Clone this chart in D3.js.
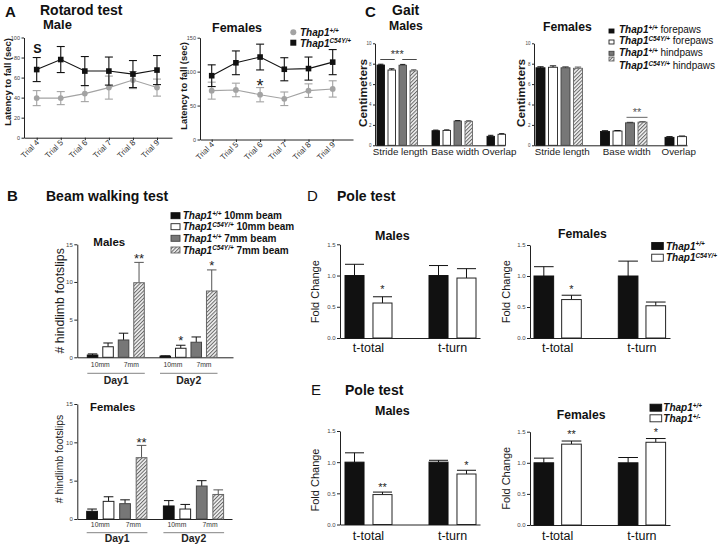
<!DOCTYPE html>
<html><head><meta charset="utf-8">
<script src="https://cdn.jsdelivr.net/npm/d3@7"></script>
<style>body{margin:0;background:#fff}svg{display:block}</style>
</head><body>
<script>
// ================= DATA =================
// A: Rotarod
const trials = ["Trial 4","Trial 5","Trial 6","Trial 7","Trial 8","Trial 9"];
const rotMaleWT = [39.5, 39.5, 44, 50, 57.5, 50];
const rotMaleWTErr = [7.5, 6.5, 8, 11.5, 8.5, 8.5];
const rotMaleMut = [68, 78, 66.5, 66.5, 63.5, 67.5];
const rotMaleMutErr = [12, 13, 14.5, 14, 13.5, 14.5];
const rotFemWT = [72, 73, 66, 60, 72, 74.5];
const rotFemWTErr = [12.5, 10, 10.5, 10, 10, 12];
const rotFemMut = [94, 113, 121.5, 103.5, 104.5, 114];
const rotFemMutErr = [16, 17.5, 19, 17, 17, 18.5];
const rotMaleTicks = [0, 20, 40, 60, 80, 100];
const rotFemTicks = [0, 50, 100, 150];
const rotLegend = [["+/+", ""], ["C54Y/+", ""]];

// C: Gait
const gaitCats = ["Stride length", "Base width", "Overlap"];
const gaitMale = [[7.87, 7.38, 7.85, 7.3], [1.43, 1.46, 2.38, 2.35], [0.88, 1.08]];
const gaitMaleErr = [[0.08, 0.12, 0.08, 0.1], [0.06, 0.05, 0.05, 0.06], [0.1, 0.06]];
const gaitFem = [[7.6, 7.65, 7.6, 7.55], [1.35, 1.4, 2.2, 2.27], [0.78, 0.85]];
const gaitFemErr = [[0.1, 0.14, 0.08, 0.12], [0.08, 0.05, 0.05, 0.05], [0.07, 0.06]];
const gaitTicks = [0, 2, 4, 6, 8, 10];
const gaitLegend = [["+/+", " forepaws"], ["C54Y/+", " forepaws"], ["+/+", " hindpaws"], ["C54Y/+", " hindpaws"]];

// B: Beam walking
const beamDays = ["Day1", "Day2"];
const beamWidths = ["10mm", "7mm"];
const beamMale = [[0.3, 1.4, 2.3, 9.9], [0.15, 1.2, 2.0, 8.8]];
const beamMaleErr = [[0.15, 0.5, 0.9, 2.7], [0.05, 0.4, 0.7, 2.8]];
const beamMaleSig = [["", "", "", "**"], ["", "*", "", "*"]];
const beamFem = [[1.0, 2.3, 2.0, 8.0], [1.7, 1.3, 4.3, 3.2]];
const beamFemErr = [[0.3, 0.6, 0.5, 1.6], [0.7, 0.6, 0.7, 0.6]];
const beamFemSig = [["", "", "", "**"], ["", "", "", ""]];
const beamTicks = [0, 5, 10, 15];
const beamLegend = [["+/+", " 10mm beam"], ["C54Y/+", " 10mm beam"], ["+/+", " 7mm beam"], ["C54Y/+", " 7mm beam"]];

// D & E: Pole test
const poleCats = ["t-total", "t-turn"];
const poleTicks = [0, 0.5, 1.0, 1.5];
const poleDMale = [[1.0, 0.56], [1.0, 0.96]];
const poleDMaleErr = [[0.18, 0.1], [0.16, 0.15]];
const poleDMaleSig = [["", "*"], ["", ""]];
const poleDFem = [[1.0, 0.62], [1.0, 0.52]];
const poleDFemErr = [[0.15, 0.07], [0.24, 0.06]];
const poleDFemSig = [["", "*"], ["", ""]];
const poleEMale = [[1.0, 0.48], [1.0, 0.81]];
const poleEMaleErr = [[0.15, 0.04], [0.03, 0.06]];
const poleEMaleSig = [["", "**"], ["", "*"]];
const poleEFem = [[1.0, 1.3], [1.0, 1.33]];
const poleEFemErr = [[0.075, 0.05], [0.085, 0.06]];
const poleEFemSig = [["", "**"], ["", "*"]];
const poleDLegend = [["+/+", ""], ["C54Y/+", ""]];
const poleELegend = [["+/+", ""], ["+/-", ""]];

// ================= DRAWING =================
const W = 720, H = 546;
const FONT = "'Liberation Sans', Arial, Helvetica, sans-serif";
const svg = d3.select("body").append("svg").attr("width", W).attr("height", H)
  .attr("font-family", FONT);
svg.append("rect").attr("width", W).attr("height", H).attr("fill", "#fff");

const defs = svg.append("defs");
const pat = defs.append("pattern").attr("id", "hatch").attr("patternUnits", "userSpaceOnUse")
  .attr("width", 2.6).attr("height", 2.6).attr("patternTransform", "rotate(45)");
pat.append("rect").attr("width", 2.6).attr("height", 2.6).attr("fill", "#f2f2f2");
pat.append("line").attr("x1", 0.5).attr("y1", 0).attr("x2", 0.5).attr("y2", 2.6)
  .attr("stroke", "#666").attr("stroke-width", 1);

const FILL = ["#111", "#fff", "#777", "url(#hatch)"];
const STROKE = ["#111", "#222", "#444", "#666"];

function txt(x, y, s, o = {}) {
  const t = svg.append("text").attr("x", x).attr("y", y).text(s)
    .attr("font-size", o.fs || 10).attr("font-weight", o.fw || "normal")
    .attr("fill", o.fill || "#111").attr("text-anchor", o.anchor || "start");
  if (o.rot) t.attr("transform", `rotate(${o.rot},${x},${y})`);
  if (o.italic) t.attr("font-style", "italic");
  if (o.dy) t.attr("dy", o.dy);
  return t;
}
function ylabel(cx, cy, s, fs, fw) {
  return txt(cx, cy, s, { fs: fs, fw: fw || "normal", anchor: "middle", rot: -90, dy: "0.35em", fill: "#1a1a1a" });
}
function genoText(x, y, sup, rest, fs, restWeight) {
  const t = svg.append("text").attr("x", x).attr("y", y).attr("font-size", fs).attr("fill", "#111");
  t.append("tspan").attr("font-style", "italic").attr("font-weight", "bold").text("Thap1");
  t.append("tspan").attr("font-style", "italic").attr("font-weight", "bold")
    .attr("font-size", fs * 0.64).attr("dy", -fs * 0.33).text(sup);
  if (rest) t.append("tspan").attr("dy", fs * 0.33).attr("font-weight", restWeight || "normal").text(rest);
  return t;
}
function styleAxis(g, fs) {
  g.attr("font-family", FONT).attr("font-size", fs);
  g.select(".domain").attr("stroke", "#222").attr("stroke-width", 1);
  g.selectAll(".tick line").attr("stroke", "#222");
  g.selectAll(".tick text").attr("fill", "#444");
}

function barChart(o) {
  const x0 = d3.scaleBand().domain(o.groups).range(o.groupRange);
  const x1 = d3.scaleBand().domain(d3.range(o.nSub)).range([0, o.subW]).paddingInner(o.subPad);
  const y = d3.scaleLinear().domain(o.yDomain).range(o.yRange);
  const ay = svg.append("g").attr("transform", `translate(${o.axisX[0]},0)`)
    .call(d3.axisLeft(y).tickValues(o.ticks).tickSize(o.tickSize || 2.5).tickSizeOuter(0)
      .tickPadding(o.tickPad || 1.5).tickFormat(o.fmt || d3.format("d")));
  styleAxis(ay, o.tickFs);
  const ax = svg.append("g").attr("transform", `translate(0,${y(0)})`)
    .call(d3.axisBottom(d3.scaleLinear().range(o.axisX)).tickValues([]).tickSizeOuter(0));
  styleAxis(ax, 6);
  const g = svg.append("g");
  const bw = x1.bandwidth();
  o.groups.forEach((grp, gi) => {
    o.values[gi].forEach((v, si) => {
      const bx = x0(grp) + x1(si);
      const e = o.errors[gi][si];
      const top = y(v + e);
      const col = si === 3 ? "#555" : "#111";
      g.append("line").attr("x1", bx + bw / 2).attr("x2", bx + bw / 2).attr("y1", y(v)).attr("y2", top)
        .attr("stroke", col).attr("stroke-width", o.ew || 1);
      g.append("line").attr("x1", bx + bw / 2 - bw * o.cap).attr("x2", bx + bw / 2 + bw * o.cap)
        .attr("y1", top).attr("y2", top).attr("stroke", col).attr("stroke-width", o.ew || 1);
      g.append("rect").attr("x", bx).attr("y", y(v)).attr("width", bw).attr("height", y(0) - y(v))
        .attr("fill", FILL[si]).attr("stroke", STROKE[si]).attr("stroke-width", o.sw || 1);
      if (o.sig && o.sig[gi][si]) {
        const fs = o.sigFs || 11;
        txt(bx + bw / 2, top - o.sigGap + 0.55 * fs, o.sig[gi][si],
          { fs: fs, anchor: "middle", fill: o.sigFill || "#222" });
      }
    });
  });
  return { x0, x1, y, bw };
}

function lineChart(o) {
  const x = d3.scalePoint().domain(trials).range(o.xRange);
  const y = d3.scaleLinear().domain(o.yDomain).range(o.yRange);
  const ay = svg.append("g").attr("transform", `translate(${o.axisX[0]},0)`)
    .call(d3.axisLeft(y).tickValues(o.ticks).tickSize(2.5).tickSizeOuter(0).tickPadding(1.5));
  styleAxis(ay, 5.5);
  const axl = svg.append("g").attr("transform", `translate(0,${y(0)})`)
    .call(d3.axisBottom(d3.scaleLinear().range(o.axisX)).tickValues([]).tickSizeOuter(0));
  styleAxis(axl, 6);
  const ax = svg.append("g").attr("transform", `translate(0,${y(0)})`)
    .call(d3.axisBottom(x).tickSize(2.5).tickSizeOuter(0));
  styleAxis(ax, 8);
  ax.select(".domain").remove();
  ax.selectAll(".tick text").attr("x", 0).attr("y", 0).attr("dy", 0)
    .attr("text-anchor", "end").attr("transform", "translate(2.5,5.5) rotate(-45)").attr("fill", "#333");
  const series = [
    { v: o.wt, e: o.wtErr, col: "#a3a3a3", shape: "circle" },
    { v: o.mut, e: o.mutErr, col: "#111", shape: "square" }
  ];
  series.forEach(s => {
    const g = svg.append("g");
    g.append("path").datum(s.v.map((v, i) => [trials[i], v]))
      .attr("d", d3.line().x(d => x(d[0])).y(d => y(d[1])))
      .attr("fill", "none").attr("stroke", s.col).attr("stroke-width", 1.1);
    s.v.forEach((v, i) => {
      const cx = x(trials[i]);
      const lo = y(v - s.e[i]), hi = y(v + s.e[i]);
      g.append("line").attr("x1", cx).attr("x2", cx).attr("y1", lo).attr("y2", hi).attr("stroke", s.col).attr("stroke-width", 1.1);
      [lo, hi].forEach(yy => g.append("line").attr("x1", cx - 4).attr("x2", cx + 4).attr("y1", yy).attr("y2", yy)
        .attr("stroke", s.col).attr("stroke-width", 1.1));
      if (s.shape === "circle") g.append("circle").attr("cx", cx).attr("cy", y(v)).attr("r", 2.9).attr("fill", s.col);
      else g.append("rect").attr("x", cx - 2.8).attr("y", y(v) - 2.8).attr("width", 5.6).attr("height", 5.6).attr("fill", s.col);
    });
  });
  return { x, y };
}

function legendBoxes(items, x, rows, w, h, textX, fs, restWeight, markerRows) {
  items.forEach((it, i) => {
    const my = (markerRows || rows)[i];
    svg.append("rect").attr("x", x).attr("y", my - h / 2).attr("width", w).attr("height", h)
      .attr("fill", FILL[i]).attr("stroke", STROKE[i]).attr("stroke-width", 0.9);
    genoText(textX, rows[i] + fs * 0.36, it[0], it[1], fs, restWeight);
  });
}

// ---------- Panel A ----------
txt(5, 16.7, "A", { fs: 15, fw: "bold" });
txt(40, 15, "Rotarod test", { fs: 14, fw: "bold" });
txt(43, 29, "Male", { fs: 13, fw: "bold" });
txt(212, 31.7, "Females", { fs: 12.5, fw: "bold" });
ylabel(7.5, 82, "Latency to fall (sec)", 9.4, "bold");
ylabel(184, 86, "Latency to fall (sec)", 9.4, "bold");

lineChart({ xRange: [36.7, 157], axisX: [24, 172], yDomain: [0, 100], yRange: [137.7, 37.5],
  ticks: rotMaleTicks, wt: rotMaleWT, wtErr: rotMaleWTErr, mut: rotMaleMut, mutErr: rotMaleMutErr });
txt(37.5, 53.3, "S", { fs: 12.5, fw: "bold", anchor: "middle" });

const rotF = lineChart({ xRange: [211.7, 332.7], axisX: [200, 353], yDomain: [0, 150], yRange: [139.5, 37.7],
  ticks: rotFemTicks, wt: rotFemWT, wtErr: rotFemWTErr, mut: rotFemMut, mutErr: rotFemMutErr });
txt(rotF.x("Trial 6"), 81.7 + 0.55 * 18, "*", { fs: 18, anchor: "middle", fill: "#222" });

// Legend A
svg.append("circle").attr("cx", 293.3).attr("cy", 32.3).attr("r", 3).attr("fill", "#a3a3a3");
genoText(300, 32.3 + 3.6, rotLegend[0][0], rotLegend[0][1], 10);
svg.append("rect").attr("x", 290.3).attr("y", 39.7).attr("width", 6).attr("height", 6).attr("fill", "#111");
genoText(300, 42.9 + 3.6, rotLegend[1][0], rotLegend[1][1], 10);

// ---------- Panel C ----------
txt(365, 16.7, "C", { fs: 15, fw: "bold" });
txt(392, 15, "Gait", { fs: 14, fw: "bold" });
txt(389, 30, "Males", { fs: 12.2, fw: "bold" });
txt(543, 30.7, "Females", { fs: 12.2, fw: "bold" });
ylabel(363, 93, "Centimeters", 11.8, "bold");
ylabel(521, 93, "Centimeters", 11.8, "bold");

const gM = barChart({ groups: gaitCats, groupRange: [377, 542], nSub: 4, subW: 40.5, subPad: 0.318,
  yDomain: [0, 10], yRange: [145.3, 43.3], axisX: [375, 505], ticks: gaitTicks, tickFs: 4.5, tickSize: 2,
  values: gaitMale, errors: gaitMaleErr, cap: 0.35, sw: 0.9 });
const gF = barChart({ groups: gaitCats, groupRange: [536, 729.5], nSub: 4, subW: 46.5, subPad: 0.28,
  yDomain: [0, 10], yRange: [145.3, 43.3], axisX: [534, 687], ticks: gaitTicks, tickFs: 4.5, tickSize: 2,
  values: gaitFem, errors: gaitFemErr, cap: 0.35, sw: 0.9 });
[[gM, gaitMale], [gF, gaitFem]].forEach(([c, vals]) => {
  gaitCats.forEach((cat, gi) => {
    const n = vals[gi].length;
    const cx = c.x0(cat) + (c.x1(0) + c.x1(n - 1) + c.bw) / 2 + 3;
    txt(cx, 155, cat, { fs: 9.8, anchor: "middle", fill: "#222" });
  });
});
// significance brackets (gait)
{
  const c = gM, cat = gaitCats[0];
  const ly = c.y(gaitMale[0][0] + gaitMaleErr[0][0]) - 4.7;
  [[0, 1], [2, 3]].forEach(([a, b]) => {
    svg.append("line").attr("x1", c.x0(cat) + c.x1(a) + c.bw / 2 - 0.5).attr("x2", c.x0(cat) + c.x1(b) + c.bw / 2 + 3)
      .attr("y1", ly).attr("y2", ly).attr("stroke", "#333").attr("stroke-width", 0.9);
  });
  const mid = c.x0(cat) + (c.x1(0) + c.x1(3) + c.bw) / 2;
  txt(mid, ly - 7.6 + 0.55 * 11, "***", { fs: 11, anchor: "middle", fill: "#333" });
}
{
  const c = gF, cat = gaitCats[1];
  const ly = c.y(gaitFem[1][3] + gaitFemErr[1][3]) - 4.3;
  const xa = c.x0(cat) + c.x1(2) + 1, xb = c.x0(cat) + c.x1(3) + c.bw + 0.5;
  svg.append("line").attr("x1", xa).attr("x2", xb).attr("y1", ly).attr("y2", ly).attr("stroke", "#555").attr("stroke-width", 0.9);
  txt((xa + xb) / 2, ly - 7.3 + 0.55 * 11, "**", { fs: 11, anchor: "middle", fill: "#555" });
}
legendBoxes(gaitLegend, 609, [29.3, 40.7, 52.3, 65.3], 5, 4, 619, 10, "normal", [31, 42, 53.3, 59]);

// ---------- Panel B ----------
txt(7, 200.7, "B", { fs: 15, fw: "bold" });
txt(46, 200.7, "Beam walking test", { fs: 14, fw: "bold" });
txt(93.3, 246, "Males", { fs: 11.5, fw: "bold" });
txt(90, 410.7, "Females", { fs: 11.3, fw: "bold" });
ylabel(60, 300.8, "# hindlimb footslips", 12.4);
ylabel(59.3, 459, "# hindlimb footslips", 10.4);

function beamExtras(c, lblY, ulY, dayY) {
  beamDays.forEach(day => {
    const x0 = c.x0(day);
    beamWidths.forEach((wd, k) => {
      const cx = x0 + (c.x1(2 * k) + c.x1(2 * k + 1) + c.bw) / 2;
      txt(cx, lblY, wd, { fs: 6.8, anchor: "middle", fill: "#333" });
    });
    const xe = x0 + c.x1(3) + c.bw + 0.5;
    svg.append("line").attr("x1", x0).attr("x2", xe).attr("y1", ulY).attr("y2", ulY)
      .attr("stroke", "#777").attr("stroke-width", 0.9);
    txt((x0 + xe) / 2, dayY, day, { fs: 10.4, fw: "bold", anchor: "middle", fill: "#222" });
  });
}
const bM = barChart({ groups: beamDays, groupRange: [87.3, 232.7], nSub: 4, subW: 57, subPad: 0.32,
  yDomain: [0, 15], yRange: [357.3, 244.3], axisX: [77.3, 233], ticks: beamTicks, tickFs: 6, tickSize: 3,
  values: beamMale, errors: beamMaleErr, cap: 0.45, sig: beamMaleSig, sigGap: 7, sigFs: 13 });
beamExtras(bM, 367.3, 373.3, 384);
const bF = barChart({ groups: beamDays, groupRange: [86.7, 240.1], nSub: 4, subW: 60.2, subPad: 0.35,
  yDomain: [0, 15], yRange: [519, 404], axisX: [77.3, 232], ticks: beamTicks, tickFs: 6, tickSize: 3,
  values: beamFem, errors: beamFemErr, cap: 0.45, sig: beamFemSig, sigGap: 5.5, sigFs: 13 });
beamExtras(bF, 526.7, 532.7, 541.7);
legendBoxes(beamLegend, 171, [215.7, 226.7, 238.3, 250], 9, 6, 182.7, 10, "bold");

// ---------- Panel D ----------
txt(307, 200.7, "D", { fs: 15 });
txt(337, 200.7, "Pole test", { fs: 14, fw: "bold" });
txt(375, 240, "Males", { fs: 12.5, fw: "bold" });
txt(558, 238.3, "Females", { fs: 12.2, fw: "bold" });
ylabel(315, 291.7, "Fold Change", 11);
ylabel(505.7, 291.7, "Fold Change", 11);
const fmt1 = d3.format(".1f");
function poleExtras(c, lblY) {
  poleCats.forEach(cat => {
    txt(c.x0(cat) + (c.x1(0) + c.x1(1) + c.bw) / 2, lblY, cat, { fs: 12.5, anchor: "middle", fill: "#111" });
  });
}
const dM = barChart({ groups: poleCats, groupRange: [345, 513], nSub: 2, subW: 47, subPad: 0.32,
  yDomain: [0, 1.5], yRange: [338, 244.3], axisX: [340, 480], ticks: poleTicks, tickFs: 6, tickSize: 3,
  fmt: fmt1, values: poleDMale, errors: poleDMaleErr, cap: 0.5, sig: poleDMaleSig, sigGap: 10, sigFs: 11 });
poleExtras(dM, 351.7);
const dF = barChart({ groups: poleCats, groupRange: [534, 702.6], nSub: 2, subW: 47.3, subPad: 0.29,
  yDomain: [0, 1.5], yRange: [338, 245], axisX: [530, 670], ticks: poleTicks, tickFs: 6, tickSize: 3,
  fmt: fmt1, values: poleDFem, errors: poleDFemErr, cap: 0.5, sig: poleDFemSig, sigGap: 8.5, sigFs: 11 });
poleExtras(dF, 351.7);
legendBoxes(poleDLegend, 651.7, [246, 257.7], 11.6, 7, 666, 10);

// ---------- Panel E ----------
txt(311, 395, "E", { fs: 15 });
txt(345, 395, "Pole test", { fs: 14, fw: "bold" });
txt(375, 415, "Males", { fs: 12.5, fw: "bold" });
txt(556.7, 419, "Females", { fs: 12.2, fw: "bold" });
ylabel(315, 480, "Fold Change", 11);
ylabel(505.7, 478.3, "Fold Change", 11);
const eM = barChart({ groups: poleCats, groupRange: [345, 513], nSub: 2, subW: 47, subPad: 0.32,
  yDomain: [0, 1.5], yRange: [524.5, 431], axisX: [340, 480], ticks: poleTicks, tickFs: 6, tickSize: 3,
  fmt: fmt1, values: poleEMale, errors: poleEMaleErr, cap: 0.5, sig: poleEMaleSig, sigGap: 7.5, sigFs: 11 });
poleExtras(eM, 540);
const eF = barChart({ groups: poleCats, groupRange: [534, 702.6], nSub: 2, subW: 47.3, subPad: 0.29,
  yDomain: [0, 1.5], yRange: [525, 431.7], axisX: [530, 670], ticks: poleTicks, tickFs: 6, tickSize: 3,
  fmt: fmt1, values: poleEFem, errors: poleEFemErr, cap: 0.5, sig: poleEFemSig, sigGap: 9, sigFs: 11 });
poleExtras(eF, 540);
legendBoxes(poleELegend, 650, [407.7, 418.3], 11.7, 7, 663.3, 10);
</script>
</body></html>
